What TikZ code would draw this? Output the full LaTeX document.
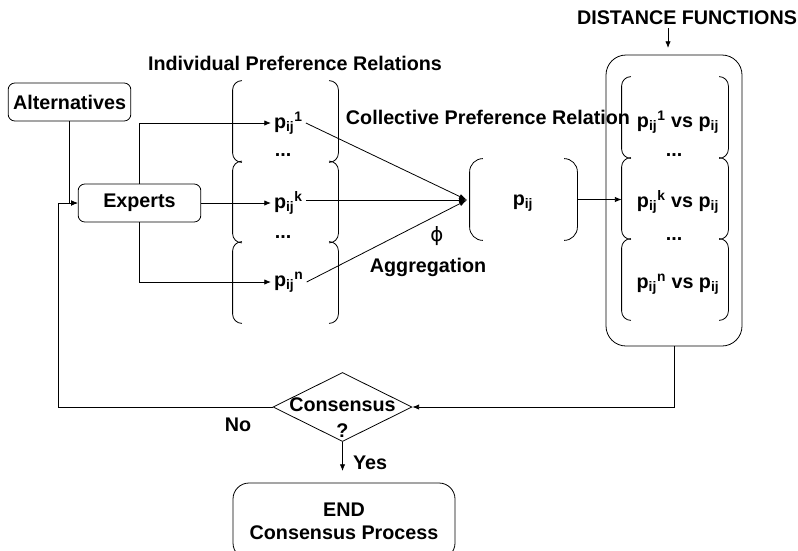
\documentclass[tikz,border=0pt]{standalone}
\usepackage{fontspec}
\setmainfont{Liberation Sans}
\newfontfamily\zeichen{DejaVu Sans}
\usetikzlibrary{arrows.meta,shapes.geometric}

\newcommand\pij[1]{p\textsubscript{ij}\textsuperscript{#1}}
\newcommand\brpair[2][7pt]{%
  \draw[rounded corners=#1] ([xshift=#1]#2.north west) -- (#2.north west) -- (#2.south west) -- ([xshift=#1]#2.south west);
  \draw[rounded corners=#1] ([xshift=-#1]#2.north east) -- (#2.north east) -- (#2.south east) -- ([xshift=-#1]#2.south east);}

\begin{document}
\begin{tikzpicture}[x=0.75pt,y=-0.75pt,line width=0.6pt,font=\fontsize{14.8}{17.25}\selectfont\bfseries]
		\tikzset{kasten/.style={draw, rounded corners=5pt, minimum width=92pt, minimum height=28.5pt, inner sep=0},
		feld/.style={inner sep=0, minimum width=78.75pt, minimum height=60.75pt},
		innen/.style={inner sep=0, minimum width=79.5pt, minimum height=60.75pt},
		txt/.style={inner sep=2pt},
		pfeil/.style={-{Latex[length=5pt,width=4pt]}}}
        \useasboundingbox (0,0) rectangle (798,550);

        \node[kasten] at (69.5, 102) (alt) {Alternatives};
        \node[kasten] at (139.5, 203) (exp) {Experts};

        % individual relations
        \node[txt] at (295, 63) (indt) {Individual Preference Relations};
        \node[feld] at (285.5, 121.5) (ind1) {};
        \node[feld] at (285.5, 202) (ind2) {};
        \node[feld] at (285.5, 282.5) (ind3) {};
        \brpair{ind1}
        \brpair{ind2}
        \brpair{ind3}
        \node[txt, anchor=west] at (271, 123) (p1) {\pij{1}};
        \node[txt] at (283, 155) (d1) {...};
        \node[txt, anchor=west] at (271, 203) (pk) {\pij{k}};
        \node[txt] at (283, 237) (d2) {...};
        \node[txt, anchor=west] at (271, 282) (pn) {\pij{n}};

        % collective relation
        \node[txt] at (488, 117) (collt) {Collective Preference Relation};
        \node[inner sep=0, minimum width=80.25pt, minimum height=60.75pt] at (523.5, 199.5) (coll) {};
        \brpair[10pt]{coll}
        \node[txt] at (523, 203) (p) {p\textsubscript{ij}};
        \coordinate (agg) at (467, 200);
        \node[txt] at (437, 236) (phi) {\zeichen\mdseries ϕ};
        \node[txt] at (428, 267) (aggt) {Aggregation};

        % distance functions
        \node[txt] at (687, 18) (distt) {DISTANCE FUNCTIONS};
        \coordinate (distin) at (668, 48);
        \node[draw, rounded corners=15pt, inner sep=0, minimum width=102pt, minimum height=218.25pt] at (674, 200.5) (distbox) {};
        \node[innen] at (675, 117.5) (dist1) {};
        \node[innen] at (675, 198.5) (dist2) {};
        \node[innen] at (675, 279.5) (dist3) {};
        \brpair{dist1}
        \brpair{dist2}
        \brpair{dist3}
        \node[txt] at (678, 122) (v1) {\pij{1} vs p\textsubscript{ij}};
        \node[txt] at (674, 155) (d3) {...};
        \node[txt] at (678, 202) (vk) {\pij{k} vs p\textsubscript{ij}};
        \node[txt] at (674, 239) (d4) {...};
        \node[txt] at (678, 284) (vn) {\pij{n} vs p\textsubscript{ij}};

        % consensus
        \node[draw, diamond, aspect=2, inner sep=0, minimum width=104.25pt, minimum height=51.75pt] at (342.5, 407) (cons) {};
        \node[txt] at (342.5, 405) (const) {Consensus};
        \node[txt] at (342.5, 431) (q) {?};
        \node[txt] at (238, 425) (no) {No};
        \coordinate (back) at (58, 407);
        \coordinate (yesend) at (342.5, 471);
        \node[txt, anchor=west] at (350, 463) (yes) {Yes};
        \node[draw, rounded corners=12pt, minimum width=166.5pt, minimum height=57pt, align=center] at (344, 521) (endp) {END\\Consensus Process};

			\draw[pfeil] (alt.south) |- (exp.west);
			\draw[pfeil] (cons.west) -- (back) |- (exp.west);
			\draw[pfeil] (exp.north) |- (p1.west);
			\draw[pfeil] (exp.east) -- (pk.west);
			\draw[pfeil] (exp.south) |- (pn.west);

			% aggregation
			\draw[-{Latex[length=6pt,width=4pt]}] (p1.east) -- (agg);
			\draw[-{Latex[length=6pt,width=4pt]}] (pk.east |- agg) -- (agg);
			\draw[-{Latex[length=6pt,width=4pt]}] (pn.east) -- (agg);

			\draw[pfeil] (coll.east) -- (coll.east -| dist2.west);
			\draw[pfeil] (distt.south -| distin) -- (distin);
			\draw[pfeil] (distbox.south) |- (cons.east);
			\draw[pfeil] (cons.south) -- (yesend);

	\end{tikzpicture}
\end{document}
